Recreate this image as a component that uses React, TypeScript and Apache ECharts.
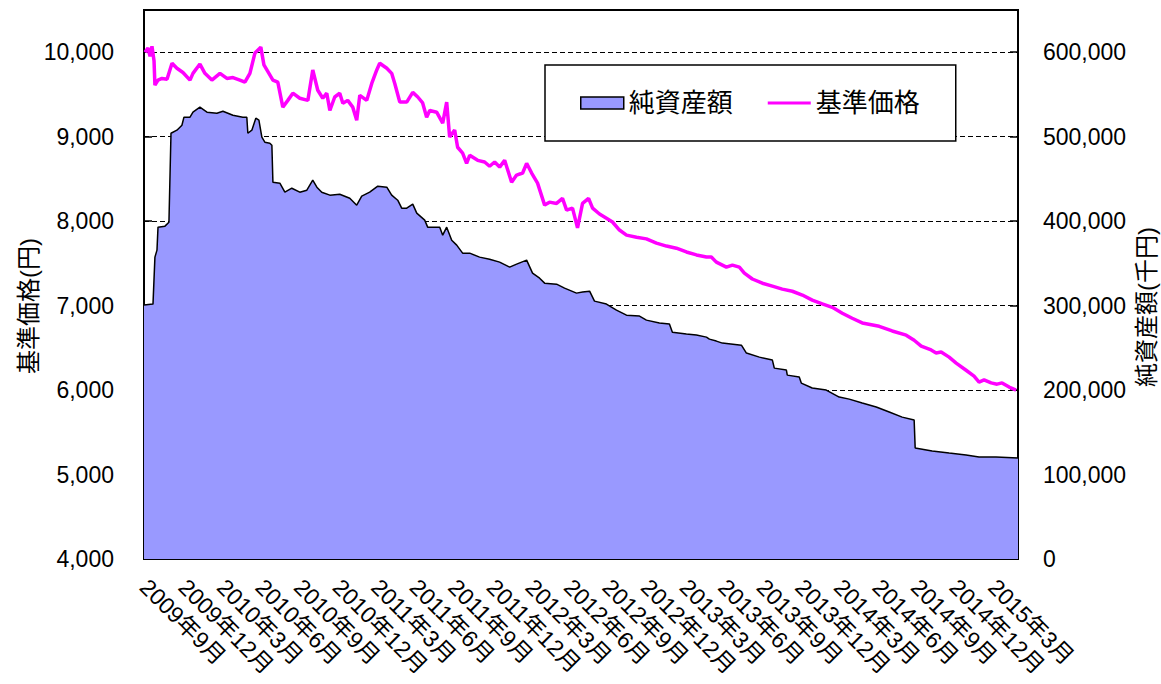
import React, { useEffect, useRef } from "react";
import * as echarts from "echarts";

// x positions are months elapsed since 2009年9月
const quarterLabels = [
  "2009年9月", "2009年12月", "2010年3月", "2010年6月", "2010年9月", "2010年12月",
  "2011年3月", "2011年6月", "2011年9月", "2011年12月", "2012年3月", "2012年6月",
  "2012年9月", "2012年12月", "2013年3月", "2013年6月", "2013年9月", "2013年12月",
  "2014年3月", "2014年6月", "2014年9月", "2014年12月", "2015年3月",
];

const priceMonths = [
  0.08, 0.31, 0.47, 0.62, 0.78, 0.85, 1.09, 1.4, 1.79, 2.18, 2.56, 3.03, 3.58, 3.81, 4.35, 4.74,
  5.28, 5.91, 6.45, 6.92, 7.46, 7.85, 8.24, 8.63, 9.09, 9.33, 9.64, 10.03, 10.41, 10.8, 11.19, 11.58,
  12.12, 12.75, 13.13, 13.52, 13.91, 14.22, 14.46, 14.84, 15.23, 15.47, 15.85, 16.24, 16.55, 16.79,
  17.33, 17.72, 18.11, 18.34, 18.89, 19.27, 19.51, 19.9, 20.44, 20.91, 21.3, 21.68, 21.99, 22.23,
  22.77, 23.24, 23.55, 23.78, 24.17, 24.4, 24.79, 25.1, 25.34, 25.96, 26.5, 26.89, 27.28, 27.67,
  28.06, 28.6, 28.99, 29.46, 29.77, 30.16, 30.62, 31.17, 31.55, 32.1, 32.56, 32.88, 33.34, 33.73,
  34.12, 34.59, 34.9, 35.44, 35.98, 36.45, 36.99, 37.54, 38.32, 39.09, 39.87, 40.65, 41.42, 42.2,
  42.98, 43.76, 44.14, 44.53, 45.31, 45.78, 46.32, 46.71, 47.33, 48.11, 48.89, 49.66, 50.44, 51.22,
  51.99, 52.77, 53.55, 54.33, 55.1, 55.88, 57.2, 58.21, 59.3, 59.92, 60.47, 61.24, 61.63, 62.02,
  62.64, 63.19, 63.96, 64.58, 64.97, 65.36, 65.91, 66.37, 66.76, 67.31, 67.85,
];
const priceValues = [
  10000, 10050, 9950, 10070, 9900, 9610, 9670, 9690, 9680, 9870, 9810, 9760, 9670, 9750, 9860, 9750,
  9670, 9750, 9690, 9700, 9670, 9645, 9750, 9990, 10060, 9850, 9770, 9670, 9645, 9350, 9430, 9515,
  9455, 9430, 9790, 9550, 9455, 9515, 9310, 9470, 9515, 9395, 9430, 9350, 9195, 9490,
  9430, 9630, 9790, 9870, 9810, 9750, 9630, 9410, 9410, 9525, 9470, 9400, 9230, 9310,
  9290, 9160, 9410, 8995, 9080, 8875, 8805, 8685, 8780, 8720, 8700, 8650, 8700, 8640,
  8720, 8460, 8545, 8570, 8685, 8570, 8450, 8190, 8225, 8210, 8270, 8130, 8155, 7920,
  8210, 8270, 8155, 8085, 8035, 7990, 7895, 7835, 7810, 7790, 7740, 7705, 7680, 7635,
  7600, 7575, 7575, 7515, 7455, 7480, 7455, 7385, 7315, 7265, 7230, 7195, 7170, 7125,
  7065, 7020, 6980, 6910, 6850, 6795, 6755, 6700, 6650, 6590, 6520, 6475, 6440, 6450,
  6390, 6320, 6235, 6165, 6095, 6120, 6085, 6070, 6085, 6035, 6000,
];

const navMonths = [
  0, 0.7, 0.85, 1.01, 1.09, 1.63, 1.94, 2.1, 2.56, 2.95, 3.11, 3.58, 3.81, 4.35, 4.9, 5.67, 6.14,
  6.92, 7.69, 8.0, 8.08, 8.39, 8.7, 8.94, 9.17, 9.4, 9.79, 9.95, 10.03, 10.57, 10.96, 11.5, 12.12,
  12.67, 13.13, 13.45, 13.83, 14.46, 15.23, 16.01, 16.55, 16.94, 17.56, 18.19, 18.89, 19.27, 19.74,
  20.05, 20.44, 20.91, 21.22, 21.84, 22.07, 23.01, 23.24, 23.55, 23.94, 24.33, 24.79, 25.34, 26.11,
  26.89, 27.67, 28.45, 28.99, 29.77, 30.23, 30.78, 31.17, 32.1, 32.72, 33.65, 34.12, 34.67, 35.05,
  35.98, 36.76, 37.54, 38.55, 39.09, 40.1, 40.88, 41.11, 42.2, 42.98, 43.76, 43.99, 44.53, 45.0,
  46.48, 46.87, 47.88, 48.89, 49.04, 49.98, 50.05, 50.98, 51.14, 51.99, 53.08, 54.09, 54.87, 55.88,
  56.97, 57.98, 58.99, 59.92, 60.0, 61.32, 62.64, 63.96, 64.97, 66.29, 68.0,
];
const navValues = [
  300600, 301800, 357400, 365700, 392900, 394100, 398800, 504100, 507700, 513600, 523100, 523100,
  529000, 534900, 529000, 527800, 530200, 525400, 523100, 523100, 504100, 507700, 521900, 519500,
  499400, 493500, 492300, 489900, 446100, 445000, 434300, 439000, 434300, 436700, 448500, 440200,
  434300, 430800, 431900, 427200, 418900, 429600, 434300, 441400, 440200, 430800, 424800, 415400,
  415400, 420100, 409500, 401200, 392900, 392900, 383400, 392900, 377500, 371600, 362100, 362100,
  357400, 355000, 351500, 345600, 349100, 353800, 338500, 332500, 326600, 325400, 320700, 314800,
  316000, 317100, 305300, 301800, 294700, 288700, 287600, 282800, 279300, 278100, 268600, 266300,
  265100, 262700, 260300, 258000, 255600, 253200, 243800, 239000, 235500, 226000, 223700, 217700,
  215400, 208300, 202400, 200000, 191700, 189300, 184600, 179900, 174000, 168000, 164500, 131400,
  127800, 125400, 123100, 120700, 120700, 119500,
];

const FONT = "'Liberation Sans', 'Noto Sans CJK JP', sans-serif";

export default function App() {
  const ref = useRef<HTMLDivElement>(null);

  useEffect(() => {
    if (!ref.current) return;
    const chart = echarts.init(ref.current, undefined, { renderer: "svg" });
    const priceData = priceMonths.map((m, i) => [m, priceValues[i]]);
    const navData = navMonths.map((m, i) => [m, navValues[i]]);

    chart.setOption({
      animation: false,
      backgroundColor: "#fff",
      textStyle: { fontFamily: FONT, color: "#000" },
      grid: {
        left: 144,
        right: 143,
        top: 10,
        bottom: 125,
        show: true,
        borderColor: "#000",
        borderWidth: 2,
        backgroundColor: "#fff",
      },
      legend: {
        left: 545,
        top: 65,
        orient: "horizontal",
        padding: [25, 36, 25, 35],
        itemGap: 35,
        itemWidth: 43,
        itemHeight: 12,
        borderColor: "#000",
        borderWidth: 1.5,
        backgroundColor: "#fff",
        textStyle: { fontSize: 26, color: "#000", fontFamily: FONT },
        data: [
          {
            name: "純資産額",
            icon: "rect",
            itemStyle: { color: "#9999FF", borderColor: "#000", borderWidth: 1.5 },
          },
          {
            name: "基準価格",
            icon: "path://M0,0H44V3H0Z",
            itemStyle: { color: "#FF00FF", borderWidth: 0 },
          },
        ],
      },
      xAxis: {
        type: "value",
        min: 0,
        max: 68,
        interval: 3,
        axisLine: { show: true, lineStyle: { color: "#000", width: 2 } },
        axisTick: { show: true, inside: true, length: 7, lineStyle: { color: "#000", width: 1.5 } },
        splitLine: { show: false },
        axisLabel: {
          rotate: -45,
          margin: 24,
          fontSize: 23,
          color: "#000",
          fontFamily: FONT,
          formatter: (v: number) => {
            const i = Math.round(v / 3);
            if (Math.abs(v - i * 3) < 1e-6 && i < quarterLabels.length) return quarterLabels[i];
            return "";
          },
        },
      },
      yAxis: [
        {
          type: "value",
          min: 4000,
          max: 10500,
          interval: 1000,
          position: "left",
          axisLine: { show: true, lineStyle: { color: "#000", width: 2 } },
          axisTick: { show: true, inside: true, length: 8, lineStyle: { color: "#000", width: 1.5 } },
          splitLine: { show: true, lineStyle: { color: "#000", width: 1, type: [5, 3] } },
          axisLabel: {
            margin: 30,
            fontSize: 23,
            color: "#000",
            fontFamily: FONT,
            formatter: (v: number) => (v % 1000 === 0 ? v.toLocaleString("en-US") : ""),
          },
        },
        {
          type: "value",
          min: 0,
          max: 650000,
          interval: 100000,
          position: "right",
          axisLine: { show: true, lineStyle: { color: "#000", width: 2 } },
          axisTick: { show: true, inside: true, length: 8, lineStyle: { color: "#000", width: 1.5 } },
          splitLine: { show: false },
          axisLabel: {
            margin: 25,
            fontSize: 23,
            color: "#000",
            fontFamily: FONT,
            formatter: (v: number) => (v % 100000 === 0 ? v.toLocaleString("en-US") : ""),
          },
        },
      ],
      graphic: [
        {
          type: "text",
          x: 28,
          y: 306,
          rotation: Math.PI / 2,
          style: {
            text: "基準価格(円)",
            fontSize: 24,
            fontFamily: FONT,
            fill: "#000",
            align: "center",
            verticalAlign: "middle",
          },
        },
        {
          type: "text",
          x: 1146,
          y: 307,
          rotation: Math.PI / 2,
          style: {
            text: "純資産額(千円)",
            fontSize: 24,
            fontFamily: FONT,
            fill: "#000",
            align: "center",
            verticalAlign: "middle",
          },
        },
      ],
      series: [
        {
          name: "純資産額",
          type: "line",
          yAxisIndex: 1,
          data: navData,
          symbol: "none",
          lineStyle: { color: "#000", width: 1.5 },
          itemStyle: { color: "#9999FF" },
          areaStyle: { color: "#9999FF", opacity: 1 },
          z: 2,
        },
        {
          name: "基準価格",
          type: "line",
          yAxisIndex: 0,
          data: priceData,
          symbol: "none",
          lineStyle: { color: "#FF00FF", width: 3.5 },
          itemStyle: { color: "#FF00FF" },
          z: 3,
        },
      ],
    });

    return () => chart.dispose();
  }, []);

  return (
    <div
      ref={ref}
      style={{ position: "fixed", left: 0, top: 0, width: 1161, height: 684, background: "#fff" }}
    />
  );
}
